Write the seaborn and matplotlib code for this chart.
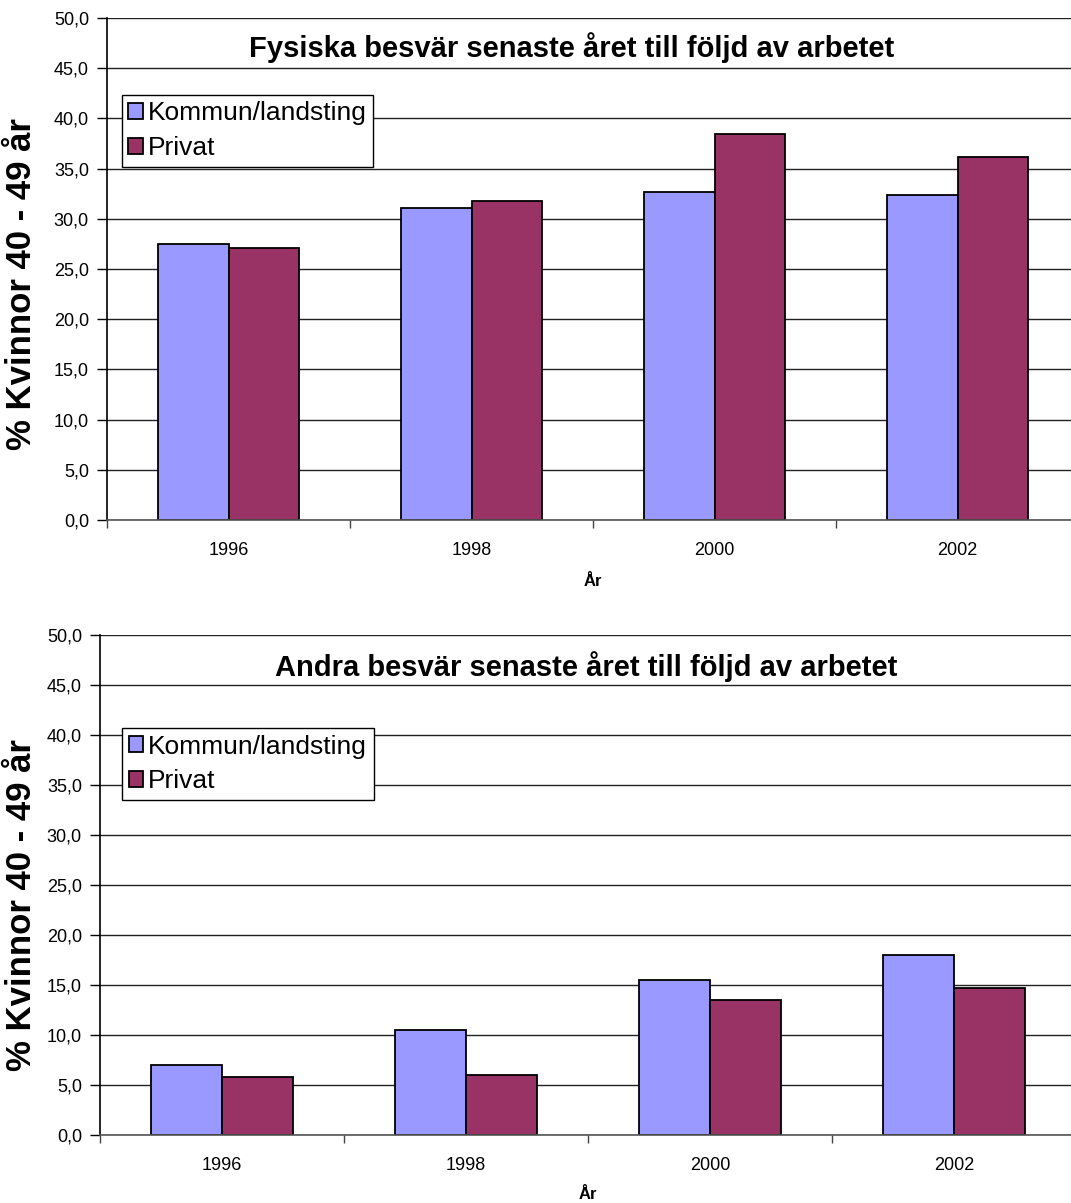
import pandas as pd
import numpy as np
import matplotlib.pyplot as plt
import seaborn as sns
from matplotlib.ticker import FuncFormatter, MultipleLocator, FixedLocator

# Data
years = ["1996", "1998", "2000", "2002"]
sectors = ["Kommun/landsting", "Privat"]
fysiska_kommun = [27.5, 31.1, 32.7, 32.4]
fysiska_privat = [27.1, 31.8, 38.4, 36.2]
andra_kommun = [7.0, 10.5, 15.5, 18.0]
andra_privat = [5.8, 6.0, 13.5, 14.7]

titles = ["Fysiska besvär senaste året till följd av arbetet",
          "Andra besvär senaste året till följd av arbetet"]
ylabel = "% Kvinnor 40 - 49 år"
xlabel = "År"

colors = {"Kommun/landsting": "#9999FF", "Privat": "#993366"}

sns.set_theme(style="white")
plt.rcParams['font.family'] = ['Liberation Sans', 'DejaVu Sans']
plt.rcParams['text.color'] = 'black'
plt.rcParams['axes.labelcolor'] = 'black'
plt.rcParams['xtick.color'] = 'black'
plt.rcParams['ytick.color'] = 'black'


def long_frame(kommun, privat):
    return pd.DataFrame({
        "year": years * 2,
        "sector": [sectors[0]] * len(years) + [sectors[1]] * len(years),
        "value": kommun + privat,
    })


fig = plt.figure(figsize=(10.71, 12.03), dpi=100)
# axes placed to match the reference layout (pixel based)
ax1 = fig.add_axes([107 / 1071, 1 - 520 / 1203, 972 / 1071, 502 / 1203])
ax2 = fig.add_axes([100 / 1071, 1 - 1135 / 1203, 976 / 1071, 500 / 1203])

panels = [
    (ax1, long_frame(fysiska_kommun, fysiska_privat), titles[0], (0.478, 0.942),
     (0.015, 0.847), (-0.071, 0.47), -0.107),
    (ax2, long_frame(andra_kommun, andra_privat), titles[1], (0.498, 0.936),
     (0.0225, 0.814), (-0.0635, 0.46), -0.104),
]

for ax, df, title, tpos, lpos, ylpos, xly in panels:
    sns.barplot(data=df, x="year", y="value", hue="sector", order=years,
                hue_order=sectors, palette=colors, width=0.58,
                edgecolor="black", linewidth=1.3, saturation=1, ax=ax,
                errorbar=None)
    ax.set_xlim(-0.5, 3.5)
    ax.set_ylim(0, 50)
    ax.yaxis.set_major_locator(MultipleLocator(5))
    ax.yaxis.set_major_formatter(FuncFormatter(lambda v, p: f"{v:.1f}".replace(".", ",")))
    ax.yaxis.grid(True, color="#222222", lw=1.0)
    ax.set_axisbelow(True)
    ax.tick_params(axis="y", which="major", direction="out", length=7, width=1,
                   color="black", labelsize=13, pad=6, left=True)
    ax.tick_params(axis="x", which="major", length=0, labelsize=13, pad=16)
    ax.xaxis.set_minor_locator(FixedLocator(np.arange(-0.5, 4.0, 1.0)))
    ax.tick_params(axis="x", which="minor", direction="out", length=6, width=1,
                   color="#444444", bottom=True)
    for s in ["top", "right"]:
        ax.spines[s].set_visible(False)
    ax.spines["left"].set_color("black")
    ax.spines["left"].set_linewidth(1.2)
    ax.spines["bottom"].set_color("#555555")
    ax.spines["bottom"].set_linewidth(1.2)

    ax.text(tpos[0], tpos[1], title, transform=ax.transAxes, ha="center",
            va="center", fontsize=21, fontweight="bold")
    ax.set_ylabel(ylabel, fontsize=25, fontweight="bold")
    ax.yaxis.set_label_coords(*ylpos)
    ax.set_xlabel(xlabel, fontsize=12, fontweight="bold")
    ax.xaxis.set_label_coords(0.5, xly)

    leg = ax.legend(loc="upper left", bbox_to_anchor=lpos, fontsize=19,
                    frameon=True, fancybox=False, shadow=False,
                    handlelength=0.55, handleheight=0.55, handletextpad=0.2,
                    borderpad=0.25, labelspacing=0.4, borderaxespad=0)
    leg.get_frame().set_edgecolor("black")
    leg.get_frame().set_linewidth(1.0)
    leg.get_frame().set_alpha(1)

fig.savefig("out.png", dpi=100)
